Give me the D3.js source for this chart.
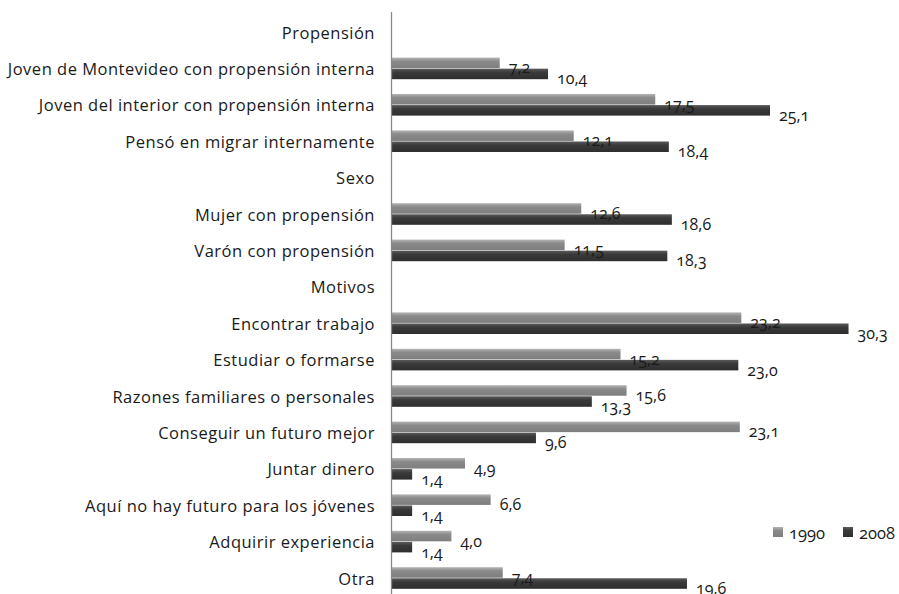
<!DOCTYPE html>
<html><head><meta charset="utf-8">
<script src="https://cdn.jsdelivr.net/npm/d3@7"></script>
<style>body{margin:0;background:#fff}svg{display:block}</style>
</head><body>
<svg id="c" width="899" height="594"></svg>
<script>
const categories = ["Propensión","Joven de Montevideo con propensión interna","Joven del interior con propensión interna","Pensó en migrar internamente","Sexo","Mujer con propensión","Varón con propensión","Motivos","Encontrar trabajo","Estudiar o formarse","Razones familiares o personales","Conseguir un futuro mejor","Juntar dinero","Aquí no hay futuro para los jóvenes","Adquirir experiencia","Otra"];
const series = ["1990","2008"];
const values1990 = [null,7.2,17.5,12.1,null,12.6,11.5,null,23.2,15.2,15.6,23.1,4.9,6.6,4.0,7.4];
const values2008 = [null,10.4,25.1,18.4,null,18.6,18.3,null,30.3,23.0,13.3,9.6,1.4,1.4,1.4,19.6];

const svg = d3.select("#c");
const font = "'Open Sans', sans-serif";
const x = d3.scaleLinear().domain([0,35]).range([391, 391+15.1*35]);
const y = d3.scaleBand().domain(categories).range([13.8, 596.2]);
const inner = d3.scaleBand().domain(series).range([-10.8, 10.8]).paddingInner(0.05);

const defs = svg.append("defs");
const grads = {"1990":["#b4b4b4","#8a8a8a","#7e7e7e"],"2008":["#5a5a5a","#3a3a3a","#2e2e2e"]};
series.forEach(s=>{
  const g = defs.append("linearGradient").attr("id","g"+s).attr("x1",0).attr("x2",0).attr("y1",0).attr("y2",1);
  g.append("stop").attr("offset","0%").attr("stop-color",grads[s][0]);
  g.append("stop").attr("offset","35%").attr("stop-color",grads[s][1]);
  g.append("stop").attr("offset","100%").attr("stop-color",grads[s][2]);
});

const rows = categories.map((c,i)=>({c, v:{"1990":values1990[i],"2008":values2008[i]}}));

// category labels
svg.append("g").selectAll("text").data(categories).join("text")
  .attr("x",375).attr("y",d=>y(d)+y.bandwidth()/2)
  .attr("text-anchor","end").attr("dominant-baseline","central")
  .attr("font-family",font).attr("font-size",16.5).attr("letter-spacing",0.5).attr("fill","#1a1a1a")
  .text(d=>d);

// bars
const bars = [];
rows.forEach(r=>series.forEach(s=>{ if(r.v[s]!=null) bars.push({c:r.c,s,v:r.v[s]}); }));
svg.append("g").selectAll("rect").data(bars).join("rect")
  .attr("x",x(0)).attr("y",d=>y(d.c)+y.bandwidth()/2+inner(d.s))
  .attr("width",d=>x(d.v)-x(0)).attr("height",inner.bandwidth())
  .attr("fill",d=>"url(#g"+d.s+")");

// value labels
svg.append("g").selectAll("text").data(bars).join("text")
  .attr("x",d=>x(d.v)+9)
  .attr("y",d=>y(d.c)+y.bandwidth()/2+inner(d.s)+inner.bandwidth()/2+4.5)
  .attr("dominant-baseline","central")
  .attr("font-family",font).attr("font-size",16).attr("fill","#1a1a1a")
  .style("font-variant-numeric","oldstyle-nums")
  .text(d=>d3.format(".1f")(d.v).replace(".",","));

// axis line
svg.append("line").attr("x1",391.5).attr("x2",391.5).attr("y1",12).attr("y2",594)
  .attr("stroke","#8a8a8a").attr("stroke-width",1.3);

// legend
const lg = svg.append("g").attr("transform","translate(773,532)");
const li = lg.selectAll("g").data(series).join("g").attr("transform",(d,i)=>`translate(${i*70},0)`);
li.append("rect").attr("x",0).attr("y",-5).attr("width",10).attr("height",10).attr("fill",d=>"url(#g"+d+")");
li.append("text").attr("x",16).attr("y",0).attr("dominant-baseline","central")
  .attr("font-family",font).attr("font-size",16.5).attr("fill","#1a1a1a")
  .style("font-variant-numeric","oldstyle-nums").text(d=>d);
</script>
</body></html>
